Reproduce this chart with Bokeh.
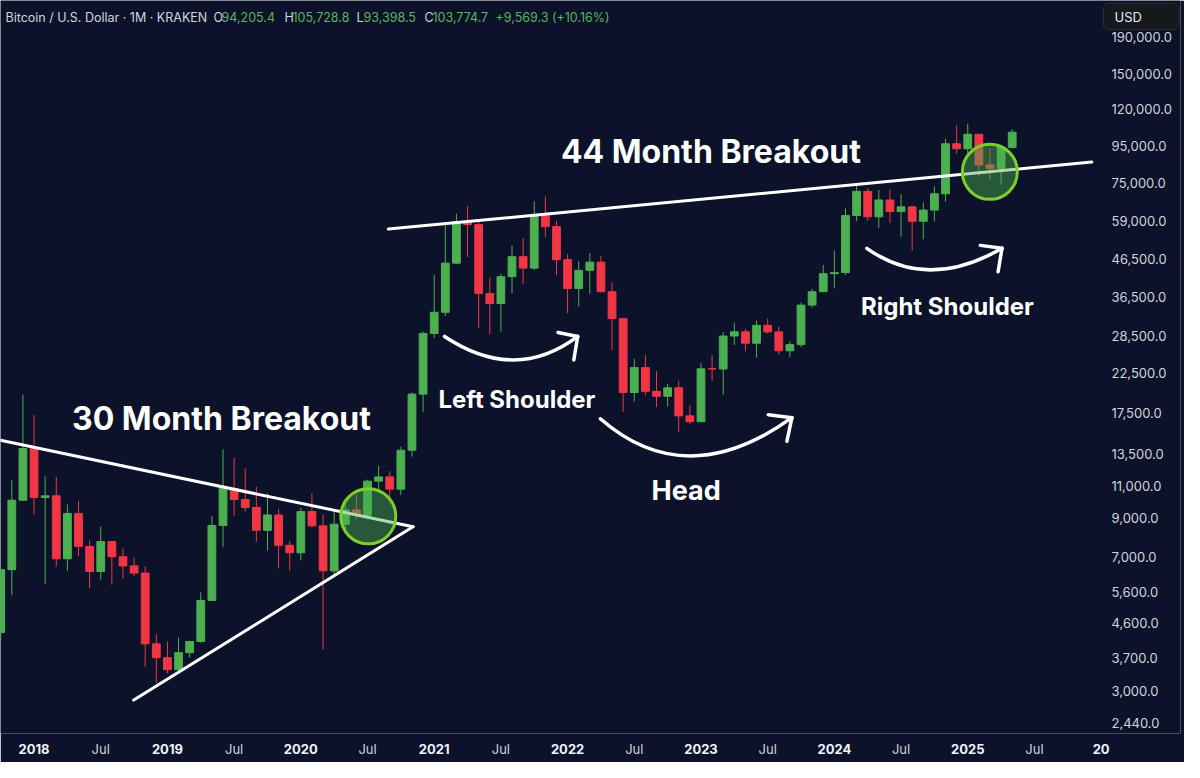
from bokeh.plotting import figure
from bokeh.models import Range1d, FixedTicker, NumeralTickFormatter, Label, ColumnDataSource, LinearAxis
from bokeh.embed import file_html
from bokeh.resources import INLINE

# ---------------- data (monthly BTC/USD, KRAKEN) ----------------
months = [
    "2017-10", "2017-11", "2017-12",
    "2018-01", "2018-02", "2018-03", "2018-04", "2018-05", "2018-06",
    "2018-07", "2018-08", "2018-09", "2018-10", "2018-11", "2018-12",
    "2019-01", "2019-02", "2019-03", "2019-04", "2019-05", "2019-06",
    "2019-07", "2019-08", "2019-09", "2019-10", "2019-11", "2019-12",
    "2020-01", "2020-02", "2020-03", "2020-04", "2020-05", "2020-06",
    "2020-07", "2020-08", "2020-09", "2020-10", "2020-11", "2020-12",
    "2021-01", "2021-02", "2021-03", "2021-04", "2021-05", "2021-06",
    "2021-07", "2021-08", "2021-09", "2021-10", "2021-11", "2021-12",
    "2022-01", "2022-02", "2022-03", "2022-04", "2022-05", "2022-06",
    "2022-07", "2022-08", "2022-09", "2022-10", "2022-11", "2022-12",
    "2023-01", "2023-02", "2023-03", "2023-04", "2023-05", "2023-06",
    "2023-07", "2023-08", "2023-09", "2023-10", "2023-11", "2023-12",
    "2024-01", "2024-02", "2024-03", "2024-04", "2024-05", "2024-06",
    "2024-07", "2024-08", "2024-09", "2024-10", "2024-11", "2024-12",
    "2025-01", "2025-02", "2025-03", "2025-04", "2025-05",
]
opens = [
    4338, 6468, 10050,
    13950, 10220, 10330, 6930, 9240, 7495, 6395, 7730, 7020, 6625, 6330, 4040,
    3700, 3430, 3820, 4100, 5320, 8560, 10830, 10090, 9600, 8300, 9150, 7550,
    7200, 9350, 8540, 6420, 8630, 9450, 9140, 11340, 11650, 10780, 13800, 19700,
    28950, 33100, 45200, 58800, 57700, 37300, 35000, 41500, 47100, 43800, 61300, 57000,
    46200, 38500, 43200, 45500, 37700, 31800, 19900, 23300, 20050, 19430, 20500, 17160,
    16540, 23130, 23100, 28470, 29250, 27200, 30470, 29230, 25930, 26960, 34650, 37710,
    42280, 42580, 61150, 71300, 60650, 67500, 62700, 64600, 58980, 63300, 70200, 96400,
    93400, 102400, 84300, 82500, 94205.4,
]
highs = [
    6470, 11400, 19650,
    17250, 11700, 11650, 9780, 10000, 7780, 8490, 7760, 7400, 7000, 6600, 4300,
    4100, 4200, 4120, 5600, 9100, 13880, 13150, 12300, 10950, 10500, 9500, 7760,
    9580, 10500, 9180, 9480, 10080, 10400, 11450, 12480, 12080, 14100, 19900, 29300,
    41950, 58350, 61800, 64900, 59600, 41300, 42300, 50500, 52900, 67000, 69000, 59100,
    47900, 45800, 48200, 47400, 40000, 31950, 24650, 25200, 22800, 21000, 21450, 18400,
    23950, 25250, 29200, 31000, 29800, 31400, 31800, 30200, 27500, 35200, 38400, 44700,
    48950, 64000, 73800, 72800, 71950, 71950, 70000, 65100, 66500, 73600, 99500, 108300,
    109500, 102500, 93500, 95700, 105728.8,
]
lows = [
    4110, 5500, 10000,
    9200, 5900, 6600, 6430, 7050, 5760, 6070, 5880, 6120, 6200, 3500, 3150,
    3350, 3380, 3700, 4070, 5320, 7460, 9100, 9350, 7720, 7300, 6520, 6430,
    6860, 8460, 3900, 6150, 8120, 8900, 8980, 10530, 9880, 10380, 13250, 17600,
    28100, 32300, 45000, 47000, 30000, 28800, 29300, 37300, 39600, 43300, 53300, 41900,
    32900, 34300, 37200, 37600, 26000, 17600, 18800, 19550, 18150, 18200, 15500, 16300,
    16500, 21400, 19600, 26900, 25850, 24800, 28900, 25300, 24900, 26550, 34100, 37600,
    38500, 41880, 59000, 59100, 56500, 58400, 53500, 49000, 52600, 58900, 66800, 90500,
    89200, 78200, 76600, 74500, 93398.5,
]
closes = [
    6468, 10050, 13950,
    10220, 10330, 6930, 9240, 7495, 6395, 7730, 7020, 6625, 6330, 4040, 3700,
    3430, 3820, 4100, 5320, 8560, 10830, 10090, 9600, 8300, 9150, 7550, 7200,
    9350, 8540, 6420, 8630, 9450, 9140, 11340, 11650, 10780, 13800, 19700, 28950,
    33100, 45200, 58800, 57700, 37300, 35000, 41500, 47100, 43800, 61300, 57000, 46200,
    38500, 43200, 45500, 37700, 31800, 19900, 23300, 20050, 19430, 20500, 17160, 16540,
    23130, 23100, 28470, 29250, 27200, 30470, 29230, 25930, 26960, 34650, 37710, 42280,
    42580, 61150, 71300, 60650, 67500, 62700, 64600, 58980, 63300, 70200, 96400, 93400,
    102400, 84300, 82500, 94200, 103774.7,
]

price_ticks = [2440, 3000, 3700, 4600, 5600, 7000, 9000, 11000, 13500, 17500,
               22500, 28500, 36500, 46500, 59000, 75000, 95000, 120000, 150000, 190000]
year_labels = ["2018", "2019", "2020", "2021", "2022", "2023", "2024", "2025", "2026"]
year_shown = ["2018", "2019", "2020", "2021", "2022", "2023", "2024", "2025", "20"]
mid_label = "Jul"

header_name = "Bitcoin / U.S. Dollar \u00b7 1M \u00b7 KRAKEN"
ohlc_keys = ["O", "H", "L", "C"]
ohlc_vals = ["94,205.4", "105,728.8", "93,398.5", "103,774.7"]
change_text = "+9,569.3 (+10.16%)"
currency = "USD"

# annotation anchors in data space: (month index from Jan 2018, price)
tri_upper = [(-3.02, 14700), (34.09, 8490)]
tri_lower = [(8.97, 2828), (34.09, 8490)]
line_44 = [(31.87, 56130), (95.16, 85820)]
circles = [(30.07, 9070), (85.99, 80660)]
# curved arrows: start, control, tip, arm1, arm2
arrows = [
    [(36.93, 28400), (43.32, 21070), (48.91, 28400), (47.14, 29110), (48.56, 24460)],
    [(50.95, 16850), (58.68, 10475), (68.18, 16960), (66.05, 17280), (67.73, 14600)],
    [(74.92, 49670), (80.38, 37790), (87.08, 49670), (85.13, 50600), (86.73, 42790)],
]
notes = ["30 Month Breakout", "44 Month Breakout", "Left Shoulder", "Head", "Right Shoulder"]

# ---------------- styling ----------------
BG = "#0b1229"
UP = "#4caf50"
DOWN = "#f23645"
FG = "#d1d4dc"
FONT = "Inter"

def month_index(s):
    y, m = s.split("-")
    return (int(y) - 2018) * 12 + int(m) - 1

mx = [month_index(s) for s in months]
colors = [UP if c >= o else DOWN for o, c in zip(opens, closes)]
src = ColumnDataSource(dict(
    x=mx, low=lows, high=highs,
    top=[max(o, c) for o, c in zip(opens, closes)],
    bottom=[min(o, c) for o, c in zip(opens, closes)],
    color=colors,
))

p = figure(frame_width=1180, frame_height=733,
           x_range=Range1d(-3.018, 103.14), y_range=Range1d(2288, 239200),
           y_axis_type="log", y_axis_location="right",
           output_backend="svg", toolbar_location=None,
           min_border_left=0, min_border_top=0, min_border_right=4, min_border_bottom=29,
           background_fill_color=BG, border_fill_color=BG, outline_line_color=None)
p.grid.visible = False

ya = p.yaxis[0]
ya.ticker = FixedTicker(ticks=price_ticks)
ya.formatter = NumeralTickFormatter(format="0,0.0")
ya.major_label_text_color = FG
ya.major_label_text_font = FONT
ya.major_label_text_font_size = "13px"
ya.axis_line_color = None
ya.major_tick_line_color = None
ya.minor_tick_line_color = None
ya.major_tick_out = 0
ya.minor_tick_out = 0
ya.major_label_standoff = -69

year_ticks = [(int(y) - 2018) * 12 for y in year_labels]
xa = p.xaxis[0]
xa.ticker = FixedTicker(ticks=year_ticks)
xa.major_label_overrides = {t: lab for t, lab in zip(year_ticks, year_shown)}
xa.major_label_text_color = "#f0f3fa"
xa.major_label_text_font = FONT
xa.major_label_text_font_style = "bold"
xa.major_label_text_font_size = "13px"
xa.axis_line_color = None
xa.major_tick_line_color = None
xa.minor_tick_line_color = None
xa.major_tick_out = 0
xa.minor_tick_out = 0
xa.major_label_standoff = 10

mid_ticks = [t + 6 for t in year_ticks[:-1]]
ja = LinearAxis(ticker=FixedTicker(ticks=mid_ticks),
                major_label_overrides={t: mid_label for t in mid_ticks},
                major_label_text_color=FG, major_label_text_font=FONT,
                major_label_text_font_size="13px", axis_line_color=None,
                major_tick_line_color=None, minor_tick_line_color=None,
                major_tick_out=0, minor_tick_out=0, major_label_standoff=-16)
p.add_layout(ja, "below")

# candles
p.segment(x0="x", y0="low", x1="x", y1="high", line_color="color", line_width=1, source=src)
p.vbar(x="x", width=0.7, top="top", bottom="bottom", fill_color="color",
       line_color="color", line_width=1, source=src)

# trend lines
for ln in (tri_upper, tri_lower, line_44):
    p.line(x=[a[0] for a in ln], y=[a[1] for a in ln], line_color="white",
           line_width=3, line_cap="round")

# breakout circles
p.scatter(x=[c[0] for c in circles], y=[c[1] for c in circles], marker="circle", size=55,
          fill_color=UP, fill_alpha=0.45, line_color="#7ccf2a", line_width=3)

# curved arrows
p.quadratic(x0=[a[0][0] for a in arrows], y0=[a[0][1] for a in arrows],
            cx=[a[1][0] for a in arrows], cy=[a[1][1] for a in arrows],
            x1=[a[2][0] for a in arrows], y1=[a[2][1] for a in arrows],
            line_color="white", line_width=3.5, line_cap="round")
for k in (3, 4):
    p.segment(x0=[a[2][0] for a in arrows], y0=[a[2][1] for a in arrows],
              x1=[a[k][0] for a in arrows], y1=[a[k][1] for a in arrows],
              line_color="white", line_width=3.5, line_cap="round")

# annotation texts (screen position, relative to frame bottom-left)
note_pos = [(221, 315.1, "32px"), (710.4, 581.9, "32px"), (516.4, 333.7, "24px"),
            (685.7, 243.3, "27px"), (946.9, 426.7, "24px")]
for txt, (x, y, fs) in zip(notes, note_pos):
    p.add_layout(Label(x=x, y=y, x_units="screen", y_units="screen", text=txt,
                       text_align="center", text_baseline="alphabetic", text_color="white",
                       text_font=FONT, text_font_style="bold", text_font_size=fs))

# header
HY = 716.3
p.add_layout(Label(x=5, y=HY, x_units="screen", y_units="screen", text=header_name,
                   text_align="left", text_baseline="middle", text_color=FG,
                   text_font=FONT, text_font_size="12.5px"))
key_x = [213, 284, 356, 424]
val_x = [221, 292, 363, 432]
for k, v, kx, vx in zip(ohlc_keys, ohlc_vals, key_x, val_x):
    p.add_layout(Label(x=kx, y=HY, x_units="screen", y_units="screen", text=k,
                       text_align="left", text_baseline="middle", text_color=FG,
                       text_font=FONT, text_font_size="12.5px"))
    p.add_layout(Label(x=vx, y=HY, x_units="screen", y_units="screen", text=v,
                       text_align="left", text_baseline="middle", text_color="#5ab55e",
                       text_font=FONT, text_font_size="12.5px"))
p.add_layout(Label(x=495, y=HY, x_units="screen", y_units="screen", text=change_text,
                   text_align="left", text_baseline="middle", text_color="#5ab55e",
                   text_font=FONT, text_font_size="12.5px"))

# currency box
p.add_layout(Label(x=1103, y=730, x_units="screen", y_units="screen", text=currency,
                   text_align="left", text_baseline="top", text_color="#e8eaf0",
                   text_font=FONT, text_font_size="13px",
                   background_fill_color="#16181d", border_line_color="#2c2f36",
                   border_line_width=1, padding=(11, 37, 5, 5), border_radius=5))

open("out.html", "w").write(file_html(p, INLINE))
